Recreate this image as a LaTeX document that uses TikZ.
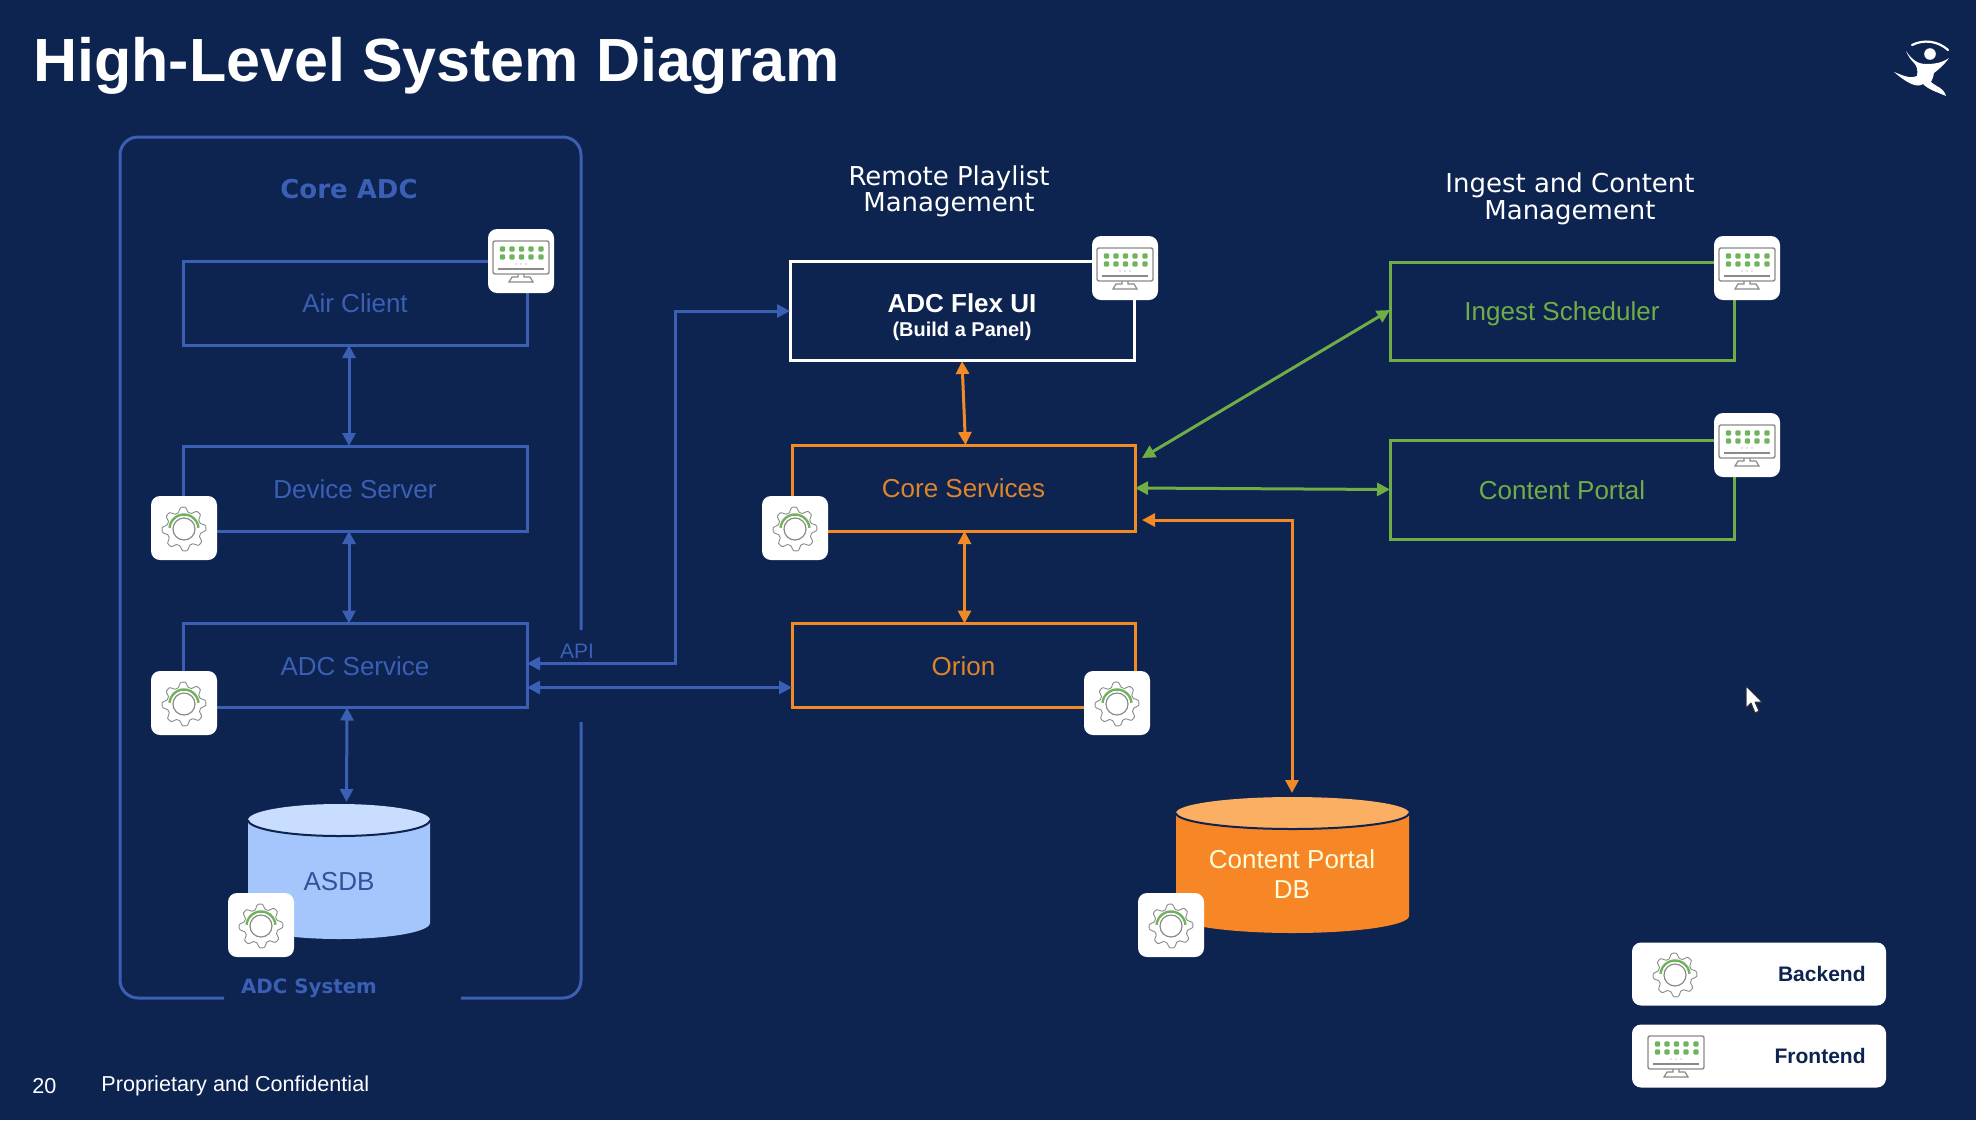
\documentclass[tikz,border=0pt]{standalone}
\usepackage{fontspec}
\setmainfont{Liberation Sans}
\newfontfamily\dejavu{DejaVu Sans}
\usetikzlibrary{arrows.meta,calc}
\definecolor{bgnavy}{HTML}{0D2350}
\definecolor{coreblue}{HTML}{3A5FB5}
\definecolor{oline}{HTML}{F28A25}
\definecolor{otext}{HTML}{DE852C}
\definecolor{gline}{HTML}{70AD47}
\definecolor{cylblue}{HTML}{A4C6FC}
\definecolor{cylbluetop}{HTML}{C9DDFE}
\definecolor{cylor}{HTML}{F78726}
\definecolor{cylortop}{HTML}{FBAF62}
\definecolor{icongray}{HTML}{8A8A8A}
\definecolor{icongreen}{HTML}{6FB35C}
\tikzset{
  x=0.5pt,y=-0.5pt,
  boxn/.style={draw,line width=1.5pt,inner sep=0pt,outer sep=0pt,font=\fontsize{13}{15}\selectfont,text height=9.8pt,text depth=0pt},
  bluebox/.style={boxn,draw=coreblue,text=coreblue},
  orbox/.style={boxn,draw=oline,text=otext},
  grbox/.style={boxn,draw=gline,text=gline},
  whbox/.style={boxn,draw=white,text=white},
  tile/.style={fill=white,rounded corners=4.5pt,minimum width=33pt,minimum height=32pt,inner sep=0pt,outer sep=0pt},
  legendbox/.style={fill=white,rounded corners=4.5pt,minimum width=127pt,minimum height=31.5pt,inner sep=0pt,outer sep=0pt},
  lnk/.style={line width=1.5pt,{Triangle[length=6.5pt,width=6.5pt]}-{Triangle[length=6.5pt,width=6.5pt]}},
  head/.style={font=\dejavu\fontsize{13}{13.2}\selectfont,text=white,align=center,inner sep=0pt},
  pics/gearicon/.style={code={
    \draw[icongray,line width=0.45pt,line join=round,smooth,samples=97,domain=0:360]
      plot ({(19.5+2.4*max(-1,min(1,1.5*cos(8*\x+22))))*cos(\x)},{1+(19.5+2.4*max(-1,min(1,1.5*cos(8*\x+22))))*sin(\x)}) -- cycle;
    \draw[icongray,line width=0.6pt] (0,1) circle[radius=11];
    \draw[icongreen,line width=1.2pt,smooth,domain=5:175,samples=20]
      plot ({14.5*cos(\x)},{1-14.5*sin(\x)});
  }},
  pics/monitoricon/.style={code={
    \draw[icongray,line width=0.7pt,rounded corners=1pt] (-28,-20) rectangle (28,13);
    \foreach \dx in {-18.5,-9,0.5,10,20}{
      \fill[icongreen,rounded corners=0.5pt] (\dx-2.6,-14.6) rectangle (\dx+2.6,-9.4);
      \fill[icongreen,rounded corners=0.5pt] (\dx-2.6,-6.6) rectangle (\dx+2.6,-1.4);
    }
    \foreach \dx in {-5,0,5}{\fill[icongray] (\dx,3) circle[radius=0.7];}
    \draw[icongray,line width=0.8pt] (-23,8) -- (23,8);
    \draw[icongray,line width=0.6pt] (-3,13) -- (-3,16) -- (-9,16) -- (-12,21) -- (12,21) -- (9,16) -- (3,16) -- (3,13);
  }},
}
\begin{document}
\begin{tikzpicture}
\useasboundingbox (0,0) rectangle (1976,1120);
\fill[bgnavy] (0,0) rectangle (1976,1120);

% title and footer
\node[anchor=west,inner sep=0pt,text=white,font=\bfseries\fontsize{30.5}{32}\selectfont] (title) at (33,66) {High-Level System Diagram};
\node[anchor=west,inner sep=0pt,text=white,font=\fontsize{10.8}{12}\selectfont] (pageno) at (32,1086) {20};
\node[anchor=west,inner sep=0pt,text=white,font=\fontsize{10.8}{12}\selectfont] (confid) at (101,1086) {Proprietary and Confidential};

% logo
\draw[white,line width=1.1pt,line cap=round] (1912,45) .. controls (1924,39) and (1938,41) .. (1948,50);
\fill[white] (1930,54) circle[radius=5.8];
\fill[white] (1906,51) .. controls (1912,60) and (1918,64) .. (1926,64)
  .. controls (1934,64) and (1942,63) .. (1949,58)
  .. controls (1944,65) and (1938,70) .. (1934,73)
  .. controls (1933,78) and (1932,80) .. (1931,82)
  .. controls (1938,88) and (1943,87) .. (1946,96)
  .. controls (1937,92) and (1929,90) .. (1923,84)
  .. controls (1917,88) and (1908,84) .. (1894,72)
  .. controls (1904,76) and (1911,79) .. (1917,76)
  .. controls (1918,70) and (1917,66) .. (1914,63)
  .. controls (1911,60) and (1908,56) .. (1906,51) -- cycle;

% core frame
\draw[coreblue,line width=1.5pt,rounded corners=9pt] (224,998) -- (120,998) -- (120,137) -- (581,137) -- (581,630);
\draw[coreblue,line width=1.5pt,rounded corners=9pt] (581,722) -- (581,998) -- (461,998);
\node[text=coreblue,inner sep=0pt,font=\dejavu\bfseries\fontsize{13}{15}\selectfont] (coreadc) at (349,189) {Core ADC};
\node[text=coreblue,inner sep=0pt,font=\dejavu\bfseries\fontsize{9.9}{12}\selectfont] (adcsys) at (309,988) {ADC System};

% cylinders
\fill[cylblue] (248,820) -- (248,923) arc[start angle=180,end angle=0,x radius=91,y radius=16] -- (430,820) -- cycle;
\fill[cylbluetop] (339,820) ellipse[x radius=91,y radius=16];
\draw[bgnavy,line width=1pt] (248,820) arc[start angle=180,end angle=0,x radius=91,y radius=16];
\node[inner sep=0pt,outer sep=0pt,minimum height=78pt,text=coreblue!85!black,font=\fontsize{13}{15}\selectfont] (asdb) at (339,882) {ASDB};

\fill[cylor] (1176,813) -- (1176,916) arc[start angle=180,end angle=0,x radius=116.5,y radius=17] -- (1409,813) -- cycle;
\fill[cylortop] (1292.5,813) ellipse[x radius=116.5,y radius=16];
\draw[bgnavy,line width=1pt] (1176,813) arc[start angle=180,end angle=0,x radius=116.5,y radius=16];
\node[inner sep=0pt,outer sep=0pt,minimum height=79pt,text=white!85!yellow,align=center,font=\fontsize{13}{15.3}\selectfont] (cpdb) at (1292,874) {Content Portal\\DB};

% boxes
\node[bluebox,minimum width=172pt,minimum height=42pt] (air) at (355,303) {Air Client};
\node[bluebox,minimum width=172pt,minimum height=42.5pt] (dev) at (355,488.5) {Device Server};
\node[bluebox,minimum width=172pt,minimum height=42pt] (svc) at (355,665.5) {ADC Service};
\node[whbox,minimum width=172pt,minimum height=49.5pt] (flex) at (962,310.5) {};
\node[inner sep=0pt,text=white,align=center] (flextext) at (962,317) {\bfseries\fontsize{13}{14}\selectfont ADC Flex UI\\[-0.2pt]\bfseries\fontsize{10}{12}\selectfont (Build a Panel)};
\node[orbox,minimum width=171.5pt,minimum height=43pt] (core) at (963.5,488) {Core Services};
\node[orbox,minimum width=171.5pt,minimum height=42pt] (orion) at (963.5,665.5) {Orion};
\node[grbox,minimum width=172pt,minimum height=49pt] (ingest) at (1562,311) {Ingest Scheduler};
\node[grbox,minimum width=172pt,minimum height=49.5pt] (portal) at (1562,489.5) {Content Portal};

% headings
\node[head] (remote) at (949,191.5) {Remote Playlist\\Management};
\node[head] (ingesthead) at (1570,199) {Ingest and Content\\Management};

% connectors
\draw[lnk,coreblue] ([xshift=-3pt]air.south) -- ([xshift=-3pt]dev.north);
\draw[lnk,coreblue] ([xshift=-3pt]dev.south) -- ([xshift=-3pt]svc.north);
\draw[lnk,coreblue] ([xshift=-4pt]svc.south) -- ([xshift=3.75pt,yshift=1pt]asdb.north);
\draw[lnk,coreblue] ([yshift=1pt]svc.east) -| (675,311) -- (flex.west |- 675,311);
\draw[lnk,coreblue] ([yshift=-11pt]svc.east) -- ([yshift=-11pt]orion.west);
\node[text=coreblue,inner sep=0pt,font=\fontsize{10.5}{12}\selectfont] (api) at (577,651) {API};
\draw[lnk,oline] ([yshift=-0.5pt]flex.south) -- ([xshift=1pt]core.north);
\draw[lnk,oline] ([xshift=0.5pt]core.south) -- ([xshift=0.5pt]orion.north);
\draw[lnk,gline] ([yshift=0.5pt]ingest.west) -- ([xshift=3.5pt,yshift=-6.5pt]core.north east);
\draw[lnk,gline] (core.east) -- (portal.west);
\draw[lnk,oline] ([xshift=3.5pt,yshift=-16pt]core.east) -| ([yshift=1pt]cpdb.north);

% icon tiles
\node[tile] (t1) at (521,261) {}; \pic at (t1) {monitoricon};
\node[tile] (t2) at (184,528) {}; \pic at (t2) {gearicon};
\node[tile] (t3) at (184,703) {}; \pic at (t3) {gearicon};
\node[tile] (t4) at (261,925) {}; \pic at (t4) {gearicon};
\node[tile] (t5) at (1125,268) {}; \pic at (t5) {monitoricon};
\node[tile] (t6) at (795,528) {}; \pic at (t6) {gearicon};
\node[tile] (t7) at (1117,703) {}; \pic at (t7) {gearicon};
\node[tile] (t8) at (1171,925) {}; \pic at (t8) {gearicon};
\node[tile] (t9) at (1747,268) {}; \pic at (t9) {monitoricon};
\node[tile] (t10) at (1747,445) {}; \pic at (t10) {monitoricon};

% legend
\node[legendbox] (lb) at (1759,974) {};
\node[legendbox] (lf) at (1759,1056) {};
\pic at (1675,974) {gearicon};
\pic at (1676,1056) {monitoricon};
\node[anchor=east,inner sep=0pt,text=bgnavy,font=\bfseries\fontsize{10.5}{12}\selectfont] (lbt) at (1866,973.5) {Backend};
\node[anchor=east,inner sep=0pt,text=bgnavy,font=\bfseries\fontsize{10.5}{12}\selectfont] (lft) at (1866,1055.5) {Frontend};

% pointer
\draw[black!80,fill=white,line width=0.5pt,line join=round] (1746,686) -- (1746,708) -- (1751,703) -- (1755,713) -- (1759,711) -- (1755,702) -- (1762,702) -- cycle;
\end{tikzpicture}
\end{document}
